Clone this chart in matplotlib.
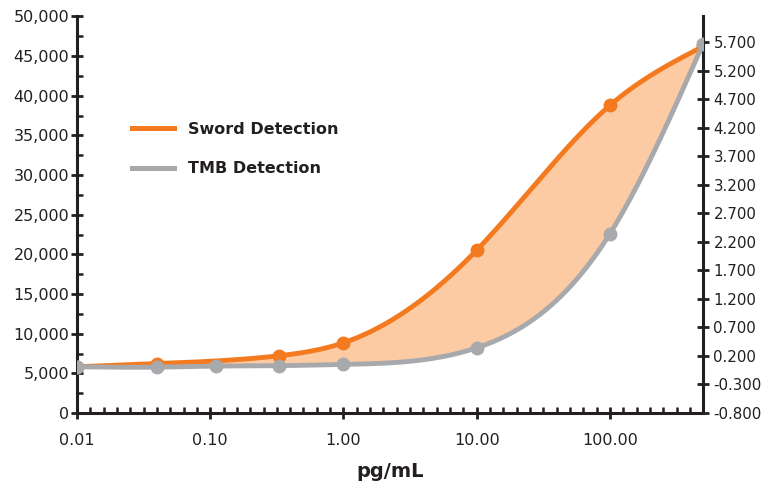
import numpy as np
import matplotlib
matplotlib.use("Agg")
import matplotlib.pyplot as plt
from matplotlib.lines import Line2D
from matplotlib.ticker import FixedLocator, FuncFormatter, FormatStrFormatter

# values
conc_sword = [0.01, 0.04, 0.33, 1.0, 10.0, 100.0, 500.0]
sword_signal = [5830, 6230, 7220, 8850, 20530, 38790, 46220]

conc_tmb = [0.01, 0.04, 0.11, 0.33, 1.0, 10.0, 100.0, 500.0]
tmb_od = [0.010, 0.004, 0.022, 0.030, 0.051, 0.342, 2.342, 5.670]

x_ticks = [0.01, 0.1, 1, 10, 100]
left_lim = (0, 50000)
right_lim = (-0.8, 6.15)
x_lim = (0.01, 500)

ORANGE = "#F47A20"
GRAY = "#A7A9AC"
FILL = "#FDCBA3"
INK = "#231F20"

plt.rcParams["axes.unicode_minus"] = False
plt.rcParams["font.family"] = "DejaVu Sans"


def spline(u, v, uu):
    # natural cubic spline, used only to draw the smoothed lines
    u = np.asarray(u, float)
    v = np.asarray(v, float)
    n = len(u)
    h = np.diff(u)
    A = np.zeros((n, n))
    rhs = np.zeros(n)
    A[0, 0] = A[-1, -1] = 1
    for i in range(1, n - 1):
        A[i, i - 1] = h[i - 1]
        A[i, i] = 2 * (h[i - 1] + h[i])
        A[i, i + 1] = h[i]
        rhs[i] = 6 * ((v[i + 1] - v[i]) / h[i] - (v[i] - v[i - 1]) / h[i - 1])
    M = np.linalg.solve(A, rhs)
    i = np.clip(np.searchsorted(u, uu) - 1, 0, n - 2)
    hi = h[i]
    a = u[i + 1] - uu
    b = uu - u[i]
    return (M[i] * a ** 3 / (6 * hi) + M[i + 1] * b ** 3 / (6 * hi)
            + (v[i] / hi - M[i] * hi / 6) * a + (v[i + 1] / hi - M[i + 1] * hi / 6) * b)


fig = plt.figure(figsize=(7.63, 4.88), dpi=100)
ax = fig.add_axes([0.1009, 0.1537, 0.8205, 0.8125])
ax2 = ax.twinx()

# smoothing done in log-x / axis-fraction space
lx = np.linspace(np.log10(x_lim[0]), np.log10(x_lim[1]), 600)
xx = 10 ** lx
sw_f = spline(np.log10(conc_sword),
              (np.array(sword_signal) - left_lim[0]) / (left_lim[1] - left_lim[0]), lx)
tm_f = spline(np.log10(conc_tmb),
              (np.array(tmb_od) - right_lim[0]) / (right_lim[1] - right_lim[0]), lx)

sw_y = sw_f * (left_lim[1] - left_lim[0]) + left_lim[0]
tm_y = tm_f * (right_lim[1] - right_lim[0]) + right_lim[0]
tm_y_left = tm_f * (left_lim[1] - left_lim[0]) + left_lim[0]

ax.fill_between(xx, sw_y, tm_y_left, color=FILL, lw=0, zorder=1)
ax.plot(xx, sw_y, color=ORANGE, lw=3.5, zorder=3, solid_capstyle="round")
ax.plot(conc_sword, sword_signal, "o", color=ORANGE, ms=9, zorder=4)

ax2.plot(xx, tm_y, color=GRAY, lw=3.5, zorder=3, solid_capstyle="round")
ax2.plot(conc_tmb, tmb_od, "o", color=GRAY, ms=9, zorder=4)

ax.set_xscale("log")
ax.set_xlim(*x_lim)
ax.set_ylim(*left_lim)
ax2.set_ylim(*right_lim)

ax.xaxis.set_major_locator(FixedLocator(x_ticks))
minor = [10 ** (d + k / 10) for d in range(-2, 3) for k in range(1, 10)]
ax.xaxis.set_minor_locator(FixedLocator(minor))
ax.xaxis.set_major_formatter(FormatStrFormatter("%.2f"))
ax.xaxis.set_minor_formatter(FuncFormatter(lambda v, p: ""))

ax.yaxis.set_major_locator(FixedLocator(np.arange(0, 50001, 5000)))
ax.yaxis.set_minor_locator(FixedLocator(np.arange(2500, 50000, 5000)))
ax.yaxis.set_major_formatter(FuncFormatter(lambda v, p: f"{v:,.0f}"))

ax2.yaxis.set_major_locator(FixedLocator(np.arange(-0.8, 5.75, 0.5)))
ax2.yaxis.set_major_formatter(FormatStrFormatter("%.3f"))

for a in (ax, ax2):
    a.spines["top"].set_visible(False)
    for s in a.spines.values():
        s.set_linewidth(2.2)
        s.set_color(INK)
    a.set_facecolor("none")

ax.spines["right"].set_visible(False)
ax2.spines["left"].set_visible(False)
ax2.spines["bottom"].set_visible(False)

ax.tick_params(axis="y", which="major", direction="inout", length=9, width=2,
               color=INK, labelsize=11.5, labelcolor=INK, pad=1)
ax.tick_params(axis="y", which="minor", direction="in", length=4, width=1.8, color=INK)
ax.tick_params(axis="x", which="major", direction="inout", length=9, width=2,
               color=INK, labelsize=11.5, labelcolor=INK, pad=10)
ax.tick_params(axis="x", which="minor", direction="in", length=4, width=1.8, color=INK)
ax2.tick_params(axis="y", which="major", direction="inout", length=9, width=2,
                color=INK, labelsize=10.8, labelcolor=INK, pad=3)

ax.set_xlabel("pg/mL", fontsize=14, fontweight="bold", color=INK, labelpad=10)

handles = [Line2D([], [], color=ORANGE, lw=3.6),
           Line2D([], [], color=GRAY, lw=3.6)]
leg = ax2.legend(handles, ["Sword Detection", "TMB Detection"],
                 loc="upper left", bbox_to_anchor=(0.088, 0.735),
                 frameon=False, borderpad=0, borderaxespad=0,
                 handlelength=2.6, handletextpad=0.9, labelspacing=1.55,
                 prop={"weight": "bold", "size": 11.5})
for t in leg.get_texts():
    t.set_color(INK)

fig.savefig("out.png", dpi=100)
